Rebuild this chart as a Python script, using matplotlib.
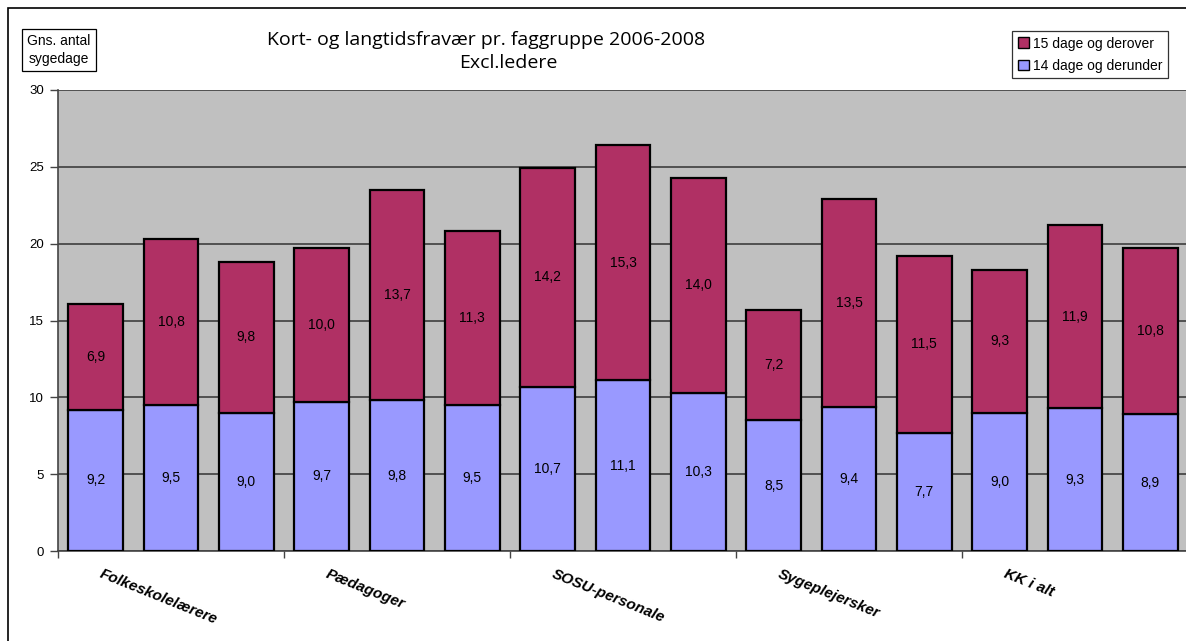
import matplotlib
matplotlib.use("Agg")
import matplotlib.pyplot as plt
from matplotlib.patches import Rectangle
import numpy as np

# Average sick days per staff group, 2006, 2007, 2008 for each group
groups = ["Folkeskolelærere", "Pædagoger", "SOSU-personale", "Sygeplejersker", "KK i alt"]
years_per_group = 3
short_absence = [9.2, 9.5, 9.0, 9.7, 9.8, 9.5, 10.7, 11.1, 10.3, 8.5, 9.4, 7.7, 9.0, 9.3, 8.9]
long_absence = [6.9, 10.8, 9.8, 10.0, 13.7, 11.3, 14.2, 15.3, 14.0, 7.2, 13.5, 11.5, 9.3, 11.9, 10.8]
series_names = ["15 dage og derover", "14 dage og derunder"]
y_ticks = [0, 5, 10, 15, 20, 25, 30]

W, H = 1186, 641
fig = plt.figure(figsize=(W / 100, H / 100), dpi=100)
fig.patch.set_facecolor("white")

# outer chart border
fig.add_artist(Rectangle((8 / W, -0.1), 1.2, (H - 8) / H + 0.1, transform=fig.transFigure,
                         fill=False, edgecolor="black", linewidth=1.2))

ax = fig.add_axes([58 / W, (H - 551) / H, 1130 / W, 461 / H])
ax.set_facecolor("#C0C0C0")

blue = "#9999FF"
red = "#B03064"
x = np.arange(len(short_absence))
bw = 0.73
ax.bar(x, short_absence, bw, color=blue, edgecolor="black", linewidth=1.6, zorder=3)
ax.bar(x, long_absence, bw, bottom=short_absence, color=red, edgecolor="black",
       linewidth=1.6, zorder=3)

for xi, s, l in zip(x, short_absence, long_absence):
    ax.text(xi, s / 2, f"{s:.1f}".replace(".", ","), ha="center", va="center",
            fontsize=10, family="Liberation Sans", zorder=4)
    ax.text(xi, s + l / 2, f"{l:.1f}".replace(".", ","), ha="center", va="center",
            fontsize=10, family="Liberation Sans", zorder=4)

ax.set_xlim(-0.5, len(short_absence) - 0.5)
ax.set_ylim(0, 30)
ax.set_yticks(y_ticks)
ax.set_yticklabels([str(t) for t in y_ticks], family="Liberation Sans", fontsize=9.5)
ax.yaxis.grid(True, color="#505050", linewidth=1.4, zorder=1)
ax.set_axisbelow(True)

boundaries = np.arange(-0.5, len(short_absence), years_per_group)
ax.set_xticks(boundaries)
ax.set_xticklabels([])
ax.tick_params(axis="x", direction="out", length=5, width=1, color="#444444")
ax.tick_params(axis="y", direction="out", length=6, width=1, color="#444444", pad=4)

for side in ["top", "right"]:
    ax.spines[side].set_visible(False)
ax.spines["left"].set_color("#444444")
ax.spines["left"].set_linewidth(1.2)
ax.spines["bottom"].set_color("#444444")
ax.spines["bottom"].set_linewidth(1.2)

# group labels, slanted under the first bar of each group
for i, name in enumerate(groups):
    ax.annotate(name, xy=(i * years_per_group, 0), xycoords="data",
                xytext=(7, -16), textcoords="offset pixels",
                rotation=-22, rotation_mode="anchor", ha="left", va="top",
                fontsize=11, fontweight="bold", fontstyle="italic",
                family="Liberation Sans", annotation_clip=False)

# title
fig.text(486 / W, 1 - 40 / H, "Kort- og langtidsfravær pr. faggruppe 2006-2008",
         ha="center", va="center", fontsize=14, family="Open Sans")
fig.text(508 / W, 1 - 63 / H, "Excl.ledere", ha="center", va="center",
         fontsize=14, family="Open Sans")

# y unit box
fig.text(59 / W, 1 - 50 / H, "Gns. antal\nsygedage", ha="center", va="center",
         fontsize=10, family="Liberation Sans", linespacing=1.45,
         bbox=dict(boxstyle="square,pad=0.35", facecolor="white", edgecolor="black",
                   linewidth=0.9))

# legend
handles = [Rectangle((0, 0), 1, 1, facecolor=red, edgecolor="black", linewidth=1),
           Rectangle((0, 0), 1, 1, facecolor=blue, edgecolor="black", linewidth=1)]
leg = fig.legend(handles, series_names, loc="upper left",
                 bbox_to_anchor=(1012 / W, 1 - 31 / H),
                 prop={"family": "Liberation Sans", "size": 10},
                 frameon=True, fancybox=False, edgecolor="black",
                 handlelength=0.8, handleheight=0.8, handletextpad=0.3,
                 borderpad=0.4, labelspacing=0.6, borderaxespad=0)
leg.get_frame().set_linewidth(0.9)

fig.savefig("out.png", dpi=100)
